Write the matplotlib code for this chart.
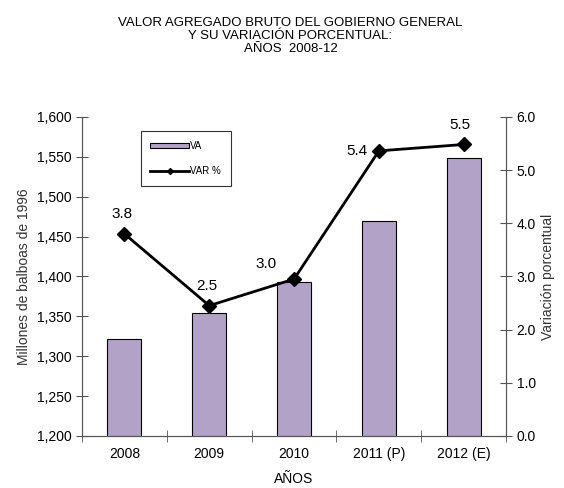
import numpy as np
import matplotlib.pyplot as plt
from matplotlib.ticker import FuncFormatter

plt.rcParams['font.family'] = ['Liberation Sans', 'DejaVu Sans']

years = ['2008', '2009', '2010', '2011 (P)', '2012 (E)']
va = [1322, 1354, 1393, 1469, 1549]
var_pct = [3.8, 2.45, 2.95, 5.36, 5.48]
var_labels = ['3.8', '2.5', '3.0', '5.4', '5.5']

fig = plt.figure(figsize=(5.64, 4.88), dpi=100)
ax = fig.add_axes([0.1454, 0.1066, 0.752, 0.654])
x = np.arange(len(years))

bars = ax.bar(x, va, width=0.4, color='#b3a2c7', edgecolor='black', linewidth=0.8, label='VA')
ax.set_ylim(1200, 1600)
ax.set_xlim(-0.5, 4.5)
ax.set_yticks(np.arange(1200, 1601, 50))
ax.yaxis.set_major_formatter(FuncFormatter(lambda v, p: f'{int(v):,}'))
ax.set_xticks(x)
ax.set_xticklabels(years, fontsize=10)
ax.set_xticks(np.arange(-0.5, 4.6, 1), minor=True)
ax.tick_params(axis='x', which='major', length=0, pad=8)
ax.tick_params(axis='x', which='minor', direction='inout', length=8, color='#555555')
ax.tick_params(axis='y', direction='inout', length=8, color='#555555', labelsize=10)
ax.set_ylabel('Millones de balboas de 1996', fontsize=10, color='#333333')
ax.set_xlabel('AÑOS', fontsize=10, labelpad=8)
ax.spines['top'].set_visible(False)
for s in ['left', 'bottom', 'right']:
    ax.spines[s].set_color('#555555')

ax2 = ax.twinx()
line, = ax2.plot(x, var_pct, color='black', linewidth=2, marker='D', markersize=7, label='VAR %')
ax2.set_ylim(0, 6)
ax2.set_yticks(np.arange(0, 6.1, 1))
ax2.yaxis.set_major_formatter(FuncFormatter(lambda v, p: f'{v:.1f}'))
ax2.tick_params(axis='y', direction='inout', length=8, color='#555555', labelsize=10)
ax2.set_ylabel('Variación porcentual', fontsize=10, color='#333333')
ax2.spines['top'].set_visible(False)
for s in ['left', 'bottom', 'right']:
    ax2.spines[s].set_color('#555555')

# label offsets in points: (dx, dy, ha, va)
offsets = [(-2, 9, 'center', 'bottom'), (-2, 9, 'center', 'bottom'),
           (-20, 6, 'center', 'bottom'), (-8, 0, 'right', 'center'),
           (-3, 9, 'center', 'bottom')]
for xi, yi, lab, (dx, dy, h, v) in zip(x, var_pct, var_labels, offsets):
    ax2.annotate(lab, (xi, yi), xytext=(dx, dy), textcoords='offset points',
                 ha=h, va=v, fontsize=11)

leg = ax.legend([bars, line], ['VA', 'VAR %'], loc='upper left',
                bbox_to_anchor=(0.138, 0.955), fontsize=7, frameon=True,
                fancybox=False, edgecolor='black', handlelength=4,
                handleheight=0.5, labelspacing=1.6, borderpad=1.0,
                handletextpad=0.1, borderaxespad=0)
leg.get_frame().set_linewidth(0.8)
leg.legend_handles[1].set_markersize(3)

fig.text(0.515, 0.965, 'VALOR AGREGADO BRUTO DEL GOBIERNO GENERAL\nY SU VARIACIÓN PORCENTUAL:\nAÑOS  2008-12',
         ha='center', va='top', fontsize=9.5, linespacing=1.1)

fig.savefig('out.png', dpi=100)
